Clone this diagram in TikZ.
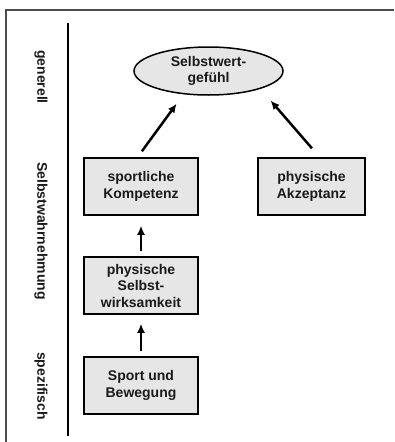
\documentclass[tikz,border=0pt]{standalone}
\usepackage{fontspec}
\setmainfont{Liberation Sans}
\usetikzlibrary{arrows.meta,shapes.geometric}
\definecolor{boxfill}{HTML}{E6E6E6}
\definecolor{inktext}{HTML}{1A1A1A}
\tikzset{
  txt/.style={font=\fontsize{14}{16.5}\selectfont\bfseries, text=inktext, align=center},
  stepbox/.style={txt, draw=black, line width=1.5pt, fill=boxfill,
    minimum width=114pt, minimum height=57pt, inner sep=0pt},
  levellabel/.style={txt, rotate=-90, inner sep=0pt},
  arr/.style={line width=2.5pt, -{Latex[length=9pt,width=8pt]}},
}
\begin{document}
\begin{tikzpicture}[x=1pt,y=-1pt]
  \useasboundingbox (0,0) rectangle (394,442);
  % outer frame (open towards right and bottom)
  \draw[black!70, line width=2pt] (5.5,442) -- (5.5,9.5) -- (394,9.5);
  % axis separating the level labels
  \draw[black, line width=2pt] (68.3,23) -- (68.3,436);

  % level labels
  \node[levellabel] (lgen) at (41,77) {generell};
  \node[levellabel] (lsw) at (41,231) {Selbstwahrnehmung};
  \node[levellabel] (lspez) at (41,386) {spezifisch};

  % concepts
  \node[ellipse, txt, draw=black, line width=1.5pt, fill=boxfill,
        minimum width=149pt, minimum height=48pt, inner sep=0pt]
        (sw) at (208.5,71) {Selbstwert-\\gefühl};
  \node[stepbox] (komp) at (141,186.5) {sportliche\\Kompetenz};
  \node[stepbox, minimum width=107pt] (akz) at (311.5,186.5) {physische\\Akzeptanz};
  \node[stepbox] (swk) at (141,285.5) {physische\\Selbst-\\wirksamkeit};
  \node[stepbox] (sub) at (141,385.5) {Sport und\\Bewegung};

  % influences
  \draw[arr, shorten <=7.4pt, shorten >=11.6pt] ([xshift=-3.5pt]komp.north) -- (sw.223);
  \draw[arr, shorten <=11.8pt, shorten >=15.4pt] ([xshift=8.2pt]akz.north) -- (sw.341);
  \draw[arr, shorten <=5pt, shorten >=10pt] (swk.north) -- (komp.south);
  \draw[arr, shorten <=5pt, shorten >=9pt] (sub.north) -- (swk.south);
\end{tikzpicture}
\end{document}
